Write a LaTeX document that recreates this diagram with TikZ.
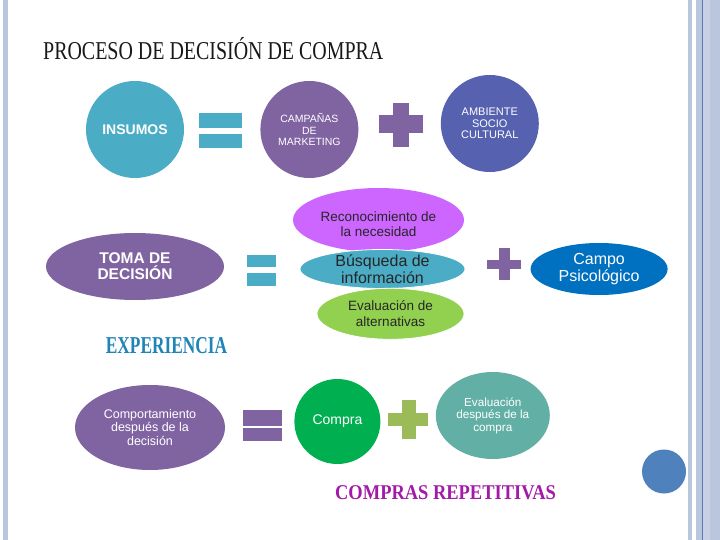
\documentclass[tikz,border=0pt]{standalone}
\usepackage{fontspec}
\usepackage{graphicx}
\usepackage{xcolor}
\usepackage{tikz}
\usetikzlibrary{positioning,shapes.geometric}
\setmainfont{Liberation Sans}
\newfontfamily\titleserif{Liberation Serif}
\definecolor{DecTeal}{HTML}{4BACC6}
\definecolor{DecPurple}{HTML}{8064A2}
\definecolor{DecIndigo}{HTML}{5662B0}
\definecolor{DecMagenta}{HTML}{CC66FF}
\definecolor{DecLime}{HTML}{92D050}
\definecolor{DecBlue}{HTML}{0070C0}
\definecolor{DecGreen}{HTML}{00B050}
\definecolor{DecSea}{HTML}{62B0A5}
\definecolor{DecOlive}{HTML}{9BBB59}
\definecolor{DecDot}{HTML}{4F81BD}
\definecolor{DecCyan}{HTML}{1F84B6}
\definecolor{DecPlum}{HTML}{A41AA8}
\definecolor{FrameLight}{HTML}{BAC6DE}
\definecolor{FrameDark}{HTML}{5A7DB3}
\newcommand{\fsz}[2]{\fontsize{#1}{#2}\selectfont}
\newcommand{\squeeze}[2]{\scalebox{#1}[1]{#2}}

\begin{document}
\begin{tikzpicture}[x=1pt, y=-1pt, blob/.style={ellipse,inner sep=0pt,align=center,text=white}, stack/.style={blob,draw=white,line width=0.8pt,text=black!85}]
\useasboundingbox[fill=white] (0,0) rectangle (720,540);
% frame bars
\fill[FrameLight] (3,0) rectangle (8,540);
\fill[FrameLight] (688,0) rectangle (692,540);
\fill[FrameLight] (696,0) rectangle (720,540);
\fill[FrameDark] (702,0) rectangle (703.2,540);
\fill[FrameLight!80!white] (703.2,0) rectangle (710,540);
\node[anchor=base west,inner sep=0pt,text=black!90] (title) at (43,60) {\titleserif\fsz{25.7}{28}\squeeze{0.776}{PROCESO DE DECISIÓN DE COMPRA}};
% row 1
\node[blob,fill=DecTeal,minimum width=98pt,minimum height=97pt,font=\bfseries\fsz{14}{16}] (insumos) at (135,129.5) {INSUMOS};
\node[blob,fill=DecPurple,minimum width=98pt,minimum height=97pt,font=\fsz{10.5}{11.5},right=76pt of insumos] (campanas) {CAMPAÑAS\\DE\\MARKETING};
\node[blob,fill=DecIndigo,minimum width=98pt,minimum height=97pt,font=\fsz{11}{11.5},right=82pt of campanas,yshift=6pt] (ambiente) {AMBIENTE\\SOCIO\\CULTURAL};
\fill[DecTeal] (199,113) rectangle (242,128);
\fill[DecTeal] (199,134) rectangle (242,148);
\fill[DecPurple] (379,115) rectangle (423,133);
\fill[DecPurple] (393,103) rectangle (409,147);
% row 2
\node[blob,fill=DecPurple,minimum width=178pt,minimum height=67pt,font=\bfseries\fsz{15.5}{16}] (toma) at (135,266.5) {TOMA DE\\DECISIÓN};
\node[blob,fill=DecMagenta,minimum width=171pt,minimum height=64pt,text=black!85,font=\fsz{13.5}{15}] (recon) at (378.5,220) {\rule{0pt}{18pt}Reconocimiento de\\la necesidad};
\node[stack,fill=DecTeal,minimum width=165pt,minimum height=39pt,inner ysep=-6pt,font=\fsz{16}{17}] (busqueda) at (382.5,269) {Búsqueda de\\información};
\node[stack,fill=DecLime,minimum width=147pt,minimum height=51pt,font=\fsz{13.5}{15.5},below=-1pt of busqueda,xshift=8pt] (altern) {Evaluación de\\alternativas};
\node[blob,fill=DecBlue,minimum width=137pt,minimum height=52pt,font=\fsz{16}{17},right=65pt of busqueda] (campo) {Campo\\Psicológico};
\fill[DecTeal] (247,255) rectangle (276,267);
\fill[DecTeal] (247,273) rectangle (276,286);
\fill[DecPurple] (487,260) rectangle (521,269);
\fill[DecPurple] (499,248) rectangle (510,280);
\node[anchor=base,inner sep=0pt,text=DecCyan] (experiencia) at (166.5,353) {\titleserif\bfseries\fsz{24.2}{26}\squeeze{0.716}{EXPERIENCIA}};
% row 3
\node[blob,fill=DecPurple,minimum width=150pt,minimum height=85pt,font=\fsz{12.5}{13.5}] (comport) at (150,427.5) {Comportamiento\\después de la\\decisión};
\node[blob,fill=DecGreen,minimum width=86pt,minimum height=85pt,font=\fsz{14}{16},right=69pt of comport,yshift=6pt] (compra) {Compra};
\node[blob,fill=DecSea,minimum width=114pt,minimum height=87pt,font=\fsz{11.7}{12.5},right=55pt of compra,yshift=6pt] (evaldesp) {Evaluación\\después de la\\compra};
\fill[DecPurple] (243,410) rectangle (282,426);
\fill[DecPurple] (243,428) rectangle (282,441);
\fill[DecOlive] (388,413) rectangle (428,426);
\fill[DecOlive] (402,400) rectangle (416,439);
\node[anchor=base,inner sep=0pt,text=DecPlum] (repetitivas) at (445.5,499) {\titleserif\bfseries\fsz{21}{23}\squeeze{0.879}{COMPRAS REPETITIVAS}};
\node[circle,fill=DecDot,minimum size=44pt,inner sep=0pt] (dot) at (664,471.5) {};
\end{tikzpicture}
\end{document}
